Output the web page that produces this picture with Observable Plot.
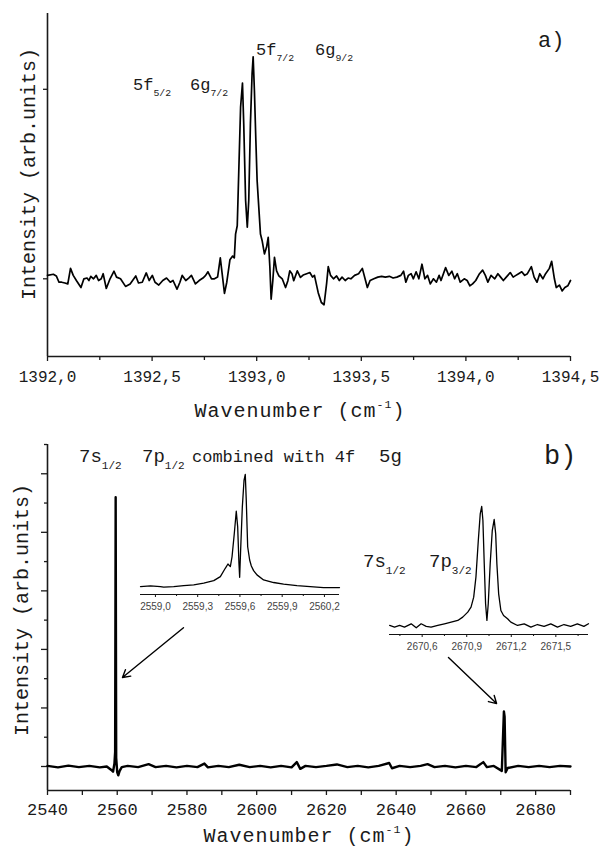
<!DOCTYPE html>
<html><head><meta charset="utf-8">
<script src="https://cdn.jsdelivr.net/npm/d3@7"></script>
<script src="https://cdn.jsdelivr.net/npm/@observablehq/plot@0.6"></script>
<style>
body{margin:0;background:#fff}
#root{position:relative;width:601px;height:852px;overflow:hidden;background:#fff}
</style></head><body><div id="root"></div>
<script>
// ---------- Panel a data ----------
const aWavenumber = [1392.000,1392.028,1392.042,1392.055,1392.068,1392.083,1392.097,1392.110,1392.123,1392.138,1392.160,1392.174,1392.189,1392.198,1392.207,1392.220,1392.233,1392.244,1392.257,1392.266,1392.281,1392.299,1392.318,1392.330,1392.349,1392.373,1392.395,1392.422,1392.435,1392.453,1392.472,1392.486,1392.501,1392.514,1392.532,1392.551,1392.569,1392.587,1392.600,1392.619,1392.633,1392.644,1392.661,1392.675,1392.688,1392.707,1392.725,1392.743,1392.756,1392.767,1392.784,1392.798,1392.813,1392.826,1392.846,1392.857,1392.872,1392.885,1392.893,1392.899,1392.907,1392.914,1392.923,1392.932,1392.938,1392.947,1392.955,1392.962,1392.970,1392.978,1392.983,1392.989,1392.996,1393.002,1393.010,1393.018,1393.026,1393.037,1393.047,1393.055,1393.063,1393.069,1393.077,1393.085,1393.095,1393.106,1393.122,1393.138,1393.149,1393.158,1393.169,1393.177,1393.194,1393.209,1393.222,1393.239,1393.254,1393.267,1393.276,1393.294,1393.309,1393.322,1393.334,1393.342,1393.353,1393.367,1393.382,1393.395,1393.408,1393.423,1393.437,1393.450,1393.468,1393.487,1393.505,1393.518,1393.529,1393.542,1393.560,1393.579,1393.597,1393.615,1393.634,1393.652,1393.670,1393.689,1393.702,1393.713,1393.725,1393.738,1393.749,1393.762,1393.775,1393.790,1393.804,1393.817,1393.830,1393.845,1393.859,1393.872,1393.881,1393.903,1393.918,1393.933,1393.946,1393.959,1393.973,1393.992,1394.006,1394.019,1394.032,1394.047,1394.065,1394.080,1394.093,1394.105,1394.120,1394.138,1394.153,1394.166,1394.179,1394.193,1394.212,1394.226,1394.239,1394.252,1394.267,1394.281,1394.294,1394.313,1394.326,1394.340,1394.353,1394.368,1394.381,1394.399,1394.410,1394.423,1394.432,1394.447,1394.460,1394.473,1394.487,1394.500];
const aIntensity = [0.018,0.024,0.015,-0.018,-0.018,-0.022,-0.027,0.055,0.018,-0.009,-0.046,0.000,0.004,-0.009,0.013,0.000,0.018,-0.009,0.000,0.027,-0.051,0.000,0.040,0.009,0.000,-0.040,-0.027,0.015,-0.022,-0.018,0.031,-0.009,0.018,-0.018,-0.033,-0.009,0.004,-0.018,-0.009,-0.055,-0.018,0.018,-0.009,0.004,0.018,-0.027,-0.009,0.004,0.018,0.037,0.000,0.000,0.009,0.110,-0.077,-0.018,0.100,0.120,0.110,0.236,0.280,0.554,0.906,1.033,0.818,0.413,0.272,0.413,0.818,1.083,1.171,0.995,0.730,0.519,0.377,0.236,0.201,0.131,0.166,0.219,0.060,-0.108,-0.010,0.113,0.042,0.016,0.000,-0.046,-0.010,0.042,0.025,-0.010,0.042,0.007,0.020,0.027,0.033,0.009,0.018,-0.073,-0.125,-0.137,-0.027,0.064,0.018,0.000,0.015,-0.009,0.009,-0.009,0.004,0.000,0.018,0.027,0.055,0.000,-0.046,-0.009,0.000,0.009,0.013,0.009,0.013,0.004,0.009,0.018,0.040,-0.018,0.018,0.027,0.000,0.037,0.000,0.077,0.000,0.018,-0.027,0.000,-0.018,0.018,-0.009,0.059,0.018,0.040,0.000,0.027,-0.018,0.000,-0.009,-0.037,-0.027,-0.009,0.027,0.046,0.018,-0.018,0.018,0.000,0.027,0.009,-0.009,0.009,0.033,0.009,0.018,0.027,0.037,0.018,0.027,0.064,0.009,-0.018,0.027,0.000,0.027,0.055,0.092,0.000,-0.046,-0.033,-0.064,-0.046,-0.037,-0.009];
const aXDomain = [1392, 1394.5];
const aYDomain = [-0.41, 1.40];
const aMajorTicks = [1392.0, 1392.5, 1393.0, 1393.5, 1394.0, 1394.5];
const aMinorTicks = [1392.25, 1392.75, 1393.25, 1393.75, 1394.25];
const aYTicks = [0, 1];

// ---------- Panel b data ----------
const bWavenumber = [2540,2543,2546,2549,2552,2555,2557,2558.3,2558.8,2559.2,2559.4,2559.55,2559.7,2560.0,2560.3,2560.7,2561.3,2563,2566,2569,2571,2574,2577,2580,2583,2585,2586,2589,2592,2595,2598,2601,2604,2607,2610,2611.5,2612.5,2614,2617,2620,2623,2626,2629,2632,2635,2638,2638.8,2641,2644,2647,2649,2651,2654,2657,2660,2663,2665,2666,2668,2670.3,2670.9,2671.1,2671.4,2672,2675,2678,2681,2684,2687,2690];
const bIntensity = [0.02,-0.03,0.03,-0.02,0.02,-0.03,0.00,-0.12,-0.18,0.10,0.50,9.20,0.30,-0.20,-0.30,-0.15,-0.02,0.02,-0.02,0.08,-0.02,0.02,-0.03,0.02,-0.02,0.10,-0.03,0.02,-0.02,0.06,-0.02,0.02,-0.03,0.02,-0.03,0.15,-0.08,0.02,-0.02,0.02,0.07,-0.02,0.02,-0.03,0.02,0.12,-0.06,0.02,-0.02,0.02,0.08,-0.02,0.02,-0.03,0.02,-0.02,0.15,-0.02,0.02,-0.15,1.88,1.70,-0.20,-0.05,0.02,-0.02,0.02,-0.02,0.02,0.00];
const bXDomain = [2540, 2690];
const bYDomain = [-0.82, 11];
const bMajorTicks = [2540, 2560, 2580, 2600, 2620, 2640, 2660, 2680];
const bMinorTicks = [2550, 2570, 2590, 2610, 2630, 2650, 2670, 2690];
const bYMajorTicks = [0, 2, 4, 6, 8, 10];
const bYMinorTicks = [1, 3, 5, 7, 9, 11];
const arrowStartX = [2579.0, 2655.0];
const arrowStartY = [4.74, 3.72];
const arrowEndX = [2561.5, 2668.8];
const arrowEndY = [3.04, 2.15];

// ---------- Inset 1 (7s1/2 - 7p1/2) ----------
const i1Wavenumber = [2558.894,2558.965,2559.035,2559.059,2559.130,2559.201,2559.272,2559.343,2559.414,2559.461,2559.496,2559.515,2559.532,2559.544,2559.560,2559.574,2559.584,2559.593,2559.598,2559.605,2559.617,2559.629,2559.638,2559.645,2559.655,2559.669,2559.681,2559.697,2559.721,2559.768,2559.839,2559.910,2560.005,2560.099,2560.194,2560.307];
const i1Intensity = [0,0.006,0,-0.006,0,0.009,0.015,0.030,0.053,0.089,0.163,0.201,0.178,0.266,0.473,0.672,0.533,0.207,0.083,0.325,0.710,0.947,1.0,0.769,0.355,0.237,0.183,0.142,0.104,0.059,0.036,0.021,0.009,0,-0.009,-0.009];
const i1XDomain = [2558.894, 2560.307];
const i1YDomain = [-0.071, 1.0];
const i1MajorTicks = [2559.0, 2559.3, 2559.6, 2559.9, 2560.2];
const i1MinorTicks = [2559.15, 2559.45, 2559.75, 2560.05];

// ---------- Inset 2 (7s1/2 - 7p3/2) ----------
const i2Wavenumber = [2670.381,2670.414,2670.448,2670.481,2670.526,2670.560,2670.593,2670.627,2670.660,2670.705,2670.750,2670.795,2670.840,2670.873,2670.907,2670.929,2670.947,2670.962,2670.978,2670.991,2671.001,2671.009,2671.018,2671.027,2671.036,2671.045,2671.058,2671.072,2671.085,2671.095,2671.103,2671.115,2671.130,2671.148,2671.175,2671.197,2671.242,2671.287,2671.332,2671.376,2671.421,2671.466,2671.511,2671.555,2671.600,2671.645,2671.689,2671.720];
const i2Intensity = [0,-0.014,0,-0.014,0.014,-0.020,0.014,-0.008,-0.014,0,0.014,0.028,0.042,0.070,0.112,0.154,0.238,0.406,0.714,0.938,1.0,0.882,0.518,0.182,0.042,0.182,0.518,0.798,0.891,0.770,0.518,0.266,0.126,0.084,0.056,0.028,0,0.014,-0.014,0.008,-0.008,0.014,-0.014,0.008,-0.008,0.014,-0.008,0.014];
const i2XDomain = [2670.38, 2671.72];
const i2YDomain = [-0.076, 1.0];
const i2MajorTicks = [2670.6, 2670.9, 2671.2, 2671.5];
const i2MinorTicks = [2670.45, 2670.75, 2671.05, 2671.35, 2671.65];

// ---------- helpers ----------
const MONO = "'Liberation Mono', 'DejaVu Sans Mono', monospace";
const SANS = "'Liberation Sans', Arial, sans-serif";
const zipRows = (xs, ys) => xs.slice(0, Math.min(xs.length, ys.length)).map((x, i) => ({x, y: ys[i]}));
const commaFmt = d => d.toFixed(1).replace(".", ",");
const blank = () => "";
const root = document.getElementById("root");
function place(el, left, top) {
  el.style.position = "absolute"; el.style.left = left + "px"; el.style.top = top + "px";
  root.appendChild(el);
}

// ---------- Panel a ----------
const plotA = Plot.plot({
  width: 601, height: 395,
  marginLeft: 47, marginRight: 31, marginTop: 13, marginBottom: 39,
  x: {domain: aXDomain},
  y: {domain: aYDomain},
  style: {fontFamily: MONO, fontSize: "16px", color: "#1a1a1a", background: "transparent", overflow: "visible"},
  marks: [
    Plot.axisX({ticks: aMajorTicks, tickFormat: commaFmt, tickSize: 5, tickPadding: 9, fontSize: 16, label: null, strokeWidth: 1.3}),
    Plot.axisX({ticks: aMinorTicks, tickFormat: blank, tickSize: 4, label: null, strokeWidth: 1.3}),
    Plot.axisY({ticks: aYTicks, tickFormat: blank, tickSize: 4, label: null, strokeWidth: 1.3}),
    Plot.ruleY([aYDomain[0]], {stroke: "#1a1a1a", strokeWidth: 1.6}),
    Plot.ruleX([aXDomain[0]], {stroke: "#1a1a1a", strokeWidth: 1.6}),
    Plot.line(zipRows(aWavenumber, aIntensity), {x: "x", y: "y", stroke: "#000", strokeWidth: 1.7})
  ]
});
place(plotA, 0, 0);

// ---------- Panel b ----------
const arrows = arrowStartX.map((x1, i) => ({x1, y1: arrowStartY[i], x2: arrowEndX[i], y2: arrowEndY[i]}));
const plotB = Plot.plot({
  width: 601, height: 400,
  marginLeft: 47, marginRight: 31, marginTop: 19, marginBottom: 35,
  x: {domain: bXDomain},
  y: {domain: bYDomain},
  style: {fontFamily: MONO, fontSize: "17px", color: "#1a1a1a", background: "transparent", overflow: "visible"},
  marks: [
    Plot.axisX({ticks: bMajorTicks, tickFormat: d => String(d), tickSize: 5, tickPadding: 7, fontSize: 17, label: null, strokeWidth: 1.3}),
    Plot.axisX({ticks: bMinorTicks, tickFormat: blank, tickSize: 5, label: null, strokeWidth: 1.3}),
    Plot.axisY({ticks: bYMajorTicks, tickFormat: blank, tickSize: 6, label: null, strokeWidth: 1.3}),
    Plot.axisY({ticks: bYMinorTicks, tickFormat: blank, tickSize: 3, label: null, strokeWidth: 1.3}),
    Plot.ruleY([bYDomain[0]], {stroke: "#1a1a1a", strokeWidth: 1.6}),
    Plot.ruleX([bXDomain[0]], {stroke: "#1a1a1a", strokeWidth: 1.6}),
    Plot.line(zipRows(bWavenumber, bIntensity), {x: "x", y: "y", stroke: "#000", strokeWidth: 2.4}),
    Plot.arrow(arrows, {x1: "x1", y1: "y1", x2: "x2", y2: "y2", stroke: "#000", strokeWidth: 1.4, headLength: 9})
  ]
});
place(plotB, 0, 425);

// ---------- Insets ----------
function inset(xs, ys, xDomain, yDomain, major, minor, height, frameHeight) {
  return Plot.plot({
    width: 219, height,
    marginLeft: 10, marginRight: 10, marginTop: 9, marginBottom: height - 9 - frameHeight,
    x: {domain: xDomain},
    y: {domain: yDomain, axis: null},
    style: {fontFamily: SANS, fontSize: "10px", color: "#444", background: "transparent", overflow: "visible"},
    marks: [
      Plot.axisX({ticks: major, tickFormat: commaFmt, tickSize: 3, tickPadding: 5, fontSize: 10, label: null, stroke: "#111"}),
      Plot.axisX({ticks: minor, tickFormat: blank, tickSize: 2, label: null, stroke: "#111"}),
      Plot.ruleY([yDomain[0]], {stroke: "#111", strokeWidth: 1.2}),
      Plot.line(zipRows(xs, ys), {x: "x", y: "y", stroke: "#000", strokeWidth: 1.3})
    ]
  });
}
place(inset(i1Wavenumber, i1Intensity, i1XDomain, i1YDomain, i1MajorTicks, i1MinorTicks, 150, 120), 130, 465);
place(inset(i2Wavenumber, i2Intensity, i2XDomain, i2YDomain, i2MajorTicks, i2MinorTicks, 159, 128), 379, 497);

// ---------- Text overlay ----------
const overlay = d3.create("svg").attr("width", 601).attr("height", 852)
  .style("position", "absolute").style("left", "0px").style("top", "0px").style("pointer-events", "none");
function label(x, y, size, parts, opts = {}) {
  const t = overlay.append("text").attr("x", x).attr("y", y)
    .attr("font-size", size).attr("font-family", opts.family || MONO).attr("fill", "#1a1a1a");
  if (opts.anchor) t.attr("text-anchor", opts.anchor);
  if (opts.rotate) t.attr("transform", `rotate(-90 ${x} ${y})`);
  if (opts.spacing) t.attr("letter-spacing", opts.spacing);
  let shift = 0;
  for (const [str, kind] of parts) {
    const target = kind === "sub" ? size * 0.38 : kind === "sup" ? -size * 0.45 : 0;
    const ts = t.append("tspan").attr("dy", target - shift).text(str);
    if (kind) ts.attr("font-size", size * 0.58);
    shift = target;
  }
}
// panel a
label(133, 90, 17, [["5f"], ["5/2", "sub"]]);
label(190, 90, 17, [["6g"], ["7/2", "sub"]]);
label(256, 55, 17, [["5f"], ["7/2", "sub"]]);
label(315, 55, 17, [["6g"], ["9/2", "sub"]]);
label(538, 47, 22, [["a)"]]);
label(300, 417, 20, [["Wavenumber (cm"], ["-1", "sup"], [")"]], {anchor: "middle", spacing: 1});
label(35, 174, 20, [["Intensity (arb.units)"]], {anchor: "middle", rotate: true});
// panel b
label(79, 462, 19, [["7s"], ["1/2", "sub"]]);
label(142, 462, 19, [["7p"], ["1/2", "sub"]]);
label(192, 462, 17, [["combined with 4f"]]);
label(379, 462, 19, [["5g"]]);
label(544, 464, 27, [["b)"]]);
label(363, 567, 19, [["7s"], ["1/2", "sub"]]);
label(429, 567, 19, [["7p"], ["3/2", "sub"]]);
label(309, 842, 20, [["Wavenumber (cm"], ["-1", "sup"], [")"]], {anchor: "middle", spacing: 1});
label(28, 610, 20, [["Intensity (arb.units)"]], {anchor: "middle", rotate: true});
root.appendChild(overlay.node());
</script></body></html>
